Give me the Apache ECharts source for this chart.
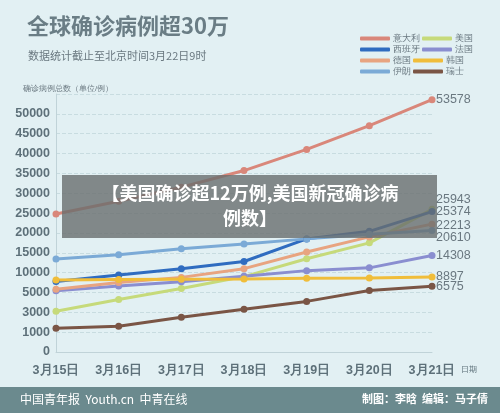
<!DOCTYPE html>
<html><head><meta charset="utf-8">
<script src="https://cdn.jsdelivr.net/npm/echarts@6/dist/echarts.min.js"></script>
<style>html,body{margin:0;padding:0;background:#e2f0f3}#c{width:500px;height:413px}</style>
</head><body><div id="c"></div>
<script>
const categories = ['3月15日','3月16日','3月17日','3月18日','3月19日','3月20日','3月21日'];
const tickLabels = ['0','1000','3000','5000','10000','15000','20000','25000','30000','35000','40000','45000','50000'];
const tickValues = [0,1000,3000,5000,10000,15000,20000,25000,30000,35000,40000,45000,50000,55000];
const italy   = [24747,27980,31506,35713,41035,47021,53578];
const usa     = [3100,4300,6000,9000,13500,17500,25943];
const spain   = [7753,9400,11000,12800,18500,20400,25374];
const france  = [5400,6600,7700,9100,10500,11200,14308];
const germany = [5800,7500,8800,11000,15200,19000,22213];
const korea   = [8162,8236,8320,8413,8565,8652,8897];
const iran    = [13400,14500,16000,17200,18500,19644,20610];
const swiss   = [1400,1600,2500,3300,4100,5500,6575];
const seriesDefs = [
 ['意大利',italy,'#d9877a',0],['美国',usa,'#c6da7a',-10],['西班牙',spain,'#2f6cc0',0],['法国',france,'#8a8ed0',0],
 ['德国',germany,'#e8a480',1],['韩国',korea,'#f0bd3a',0],['伊朗',iran,'#7baad6',7],['瑞士',swiss,'#7a5545',0]];
// map values onto the uneven (label-indexed) scale used in the picture
function toPos(v){
  for(let i=0;i<tickValues.length-1;i++){
    if(v<=tickValues[i+1]) return i+(v-tickValues[i])/(tickValues[i+1]-tickValues[i]);
  }
  return tickValues.length-1;
}
const chart = echarts.init(document.getElementById('c'));
const fg = '#5d7079';
chart.setOption({
  backgroundColor:'#e2f0f3',
  animation:false,
  title:[{text:'全球确诊病例超30万',left:22,top:10,textStyle:{fontSize:22,fontWeight:'bold',color:'#6a7d85',fontFamily:'Noto Sans CJK SC'}},
         {text:'数据统计截止至北京时间3月22日9时',left:23,top:45,textStyle:{fontSize:11,fontWeight:'normal',color:'#6a7880',fontFamily:'Noto Sans CJK SC'}},
         {text:'确诊病例总数（单位/例）',left:18,top:80,textStyle:{fontSize:8,fontWeight:'normal',color:'#6a7880'}}],
  legend:{left:360,top:34,width:140,itemWidth:30,itemHeight:4,itemGap:2,icon:'roundRect',padding:0,
    textStyle:{fontSize:9,color:'#6a7880',padding:[0,0,0,-2]},data:seriesDefs.map(s=>s[0])},
  grid:{left:56,right:68,top:94,bottom:61},
  xAxis:{type:'category',data:categories,boundaryGap:false,
    axisLine:{lineStyle:{color:'#c0d3d8'}},axisTick:{show:false},
    axisLabel:{color:fg,fontWeight:'bold',fontSize:12.5,margin:12},
    name:'日期',nameLocation:'end',nameGap:22,nameTextStyle:{fontSize:8,color:fg,padding:[14,0,0,0],verticalAlign:'top'}},
  yAxis:{type:'value',min:0,max:13,interval:1,
    axisLine:{show:true,lineStyle:{color:'#c0d3d8'}},axisTick:{show:false},
    splitLine:{lineStyle:{color:'#c8dce0',type:'dashed'}},
    axisLabel:{color:fg,fontWeight:'bold',fontSize:12.5,margin:6,formatter:(v)=>tickLabels[Math.round(v)]||''}},
  series:seriesDefs.map(([name,vals,color,dy])=>({
    name,type:'line',data:vals.map(toPos),symbol:'circle',symbolSize:7,
    lineStyle:{width:3,color},itemStyle:{color},
    endLabel:{show:true,distance:4,offset:[0,dy],color:'#6a7880',fontSize:12.5,
      formatter:()=>String(vals[vals.length-1])}
  })),
  graphic:[
    {type:'rect',left:62,top:175,shape:{width:375,height:63},style:{fill:'rgba(105,110,110,0.8)'},z:100},
    {type:'text',left:'center',top:181,style:{text:'【美国确诊超12万例,美国新冠确诊病\n例数】',fill:'#fff',font:'bold 18px "Noto Sans CJK SC"',textAlign:'center',lineHeight:25},z:101},
    {type:'rect',left:0,top:387,shape:{width:500,height:26},style:{fill:'#6b8a8e'},z:100},
    {type:'text',left:20,top:393,style:{text:'中国青年报  Youth.cn  中青在线',fill:'#fff',font:'12px "Noto Sans CJK SC"'},z:101},
    {type:'text',right:12,top:393,style:{text:'制图：李晗  编辑：马子倩',fill:'#fff',font:'bold 11px "Noto Sans CJK SC"'},z:101}
  ]
});
</script></body></html>
